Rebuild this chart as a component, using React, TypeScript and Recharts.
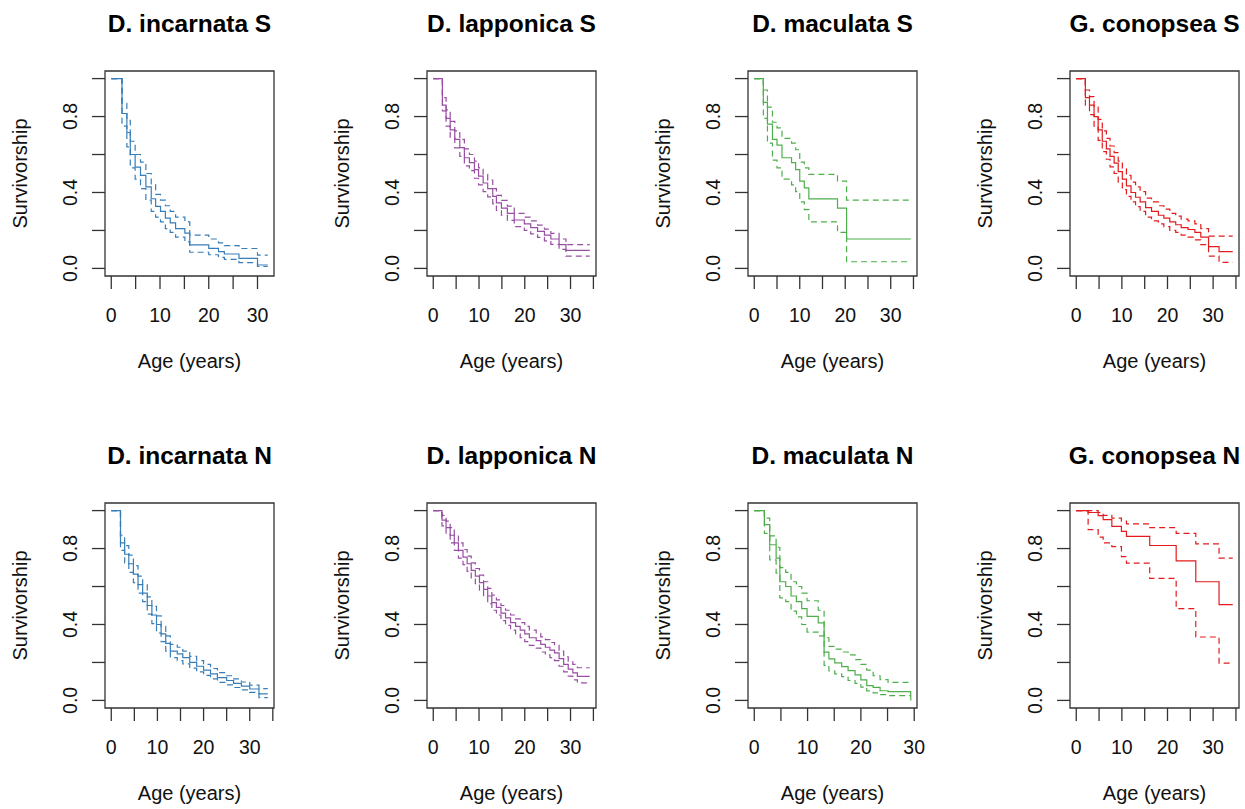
import React from "react";
import { LineChart, Line, XAxis, YAxis, ReferenceArea } from "recharts";

// D. incarnata S
const incS_t = [0, 2.2, 3.2, 3.9, 4.9, 6.0, 7.1, 8.2, 9.1, 10.1, 11.1, 12.1, 13.2, 15.1, 16.1, 20.0, 22.0, 23.2, 26.2, 30.0, 32.1];
const incS_s = [1, 0.816, 0.716, 0.6, 0.534, 0.49, 0.43, 0.367, 0.327, 0.3, 0.265, 0.24, 0.21, 0.186, 0.124, 0.106, 0.088, 0.076, 0.053, 0.018, 0.018];
const incS_u = [1, 0.87, 0.78, 0.67, 0.6, 0.56, 0.5, 0.44, 0.39, 0.36, 0.33, 0.3, 0.27, 0.245, 0.175, 0.155, 0.135, 0.12, 0.105, 0.07, 0.07];
const incS_l = [1, 0.75, 0.64, 0.53, 0.47, 0.42, 0.36, 0.3, 0.27, 0.245, 0.21, 0.19, 0.165, 0.14, 0.085, 0.072, 0.058, 0.048, 0.03, 0.01, 0.01];

// D. lapponica S
const lapS_t = [0, 2.0, 2.8, 3.7, 4.7, 5.8, 6.8, 7.9, 9.0, 9.9, 10.9, 11.9, 13.0, 13.8, 14.9, 16.2, 17.7, 19.9, 21.3, 22.8, 24.3, 25.7, 27.5, 29.0, 34.2];
const lapS_s = [1, 0.86, 0.79, 0.73, 0.68, 0.636, 0.583, 0.557, 0.52, 0.486, 0.45, 0.42, 0.38, 0.345, 0.318, 0.29, 0.255, 0.235, 0.215, 0.195, 0.175, 0.155, 0.125, 0.095, 0.095];
const lapS_u = [1, 0.9, 0.835, 0.775, 0.725, 0.68, 0.63, 0.6, 0.565, 0.53, 0.495, 0.465, 0.42, 0.385, 0.358, 0.328, 0.29, 0.27, 0.25, 0.228, 0.207, 0.185, 0.155, 0.125, 0.125];
const lapS_l = [1, 0.83, 0.75, 0.69, 0.635, 0.59, 0.54, 0.515, 0.475, 0.44, 0.405, 0.377, 0.34, 0.305, 0.28, 0.253, 0.22, 0.2, 0.182, 0.163, 0.145, 0.127, 0.1, 0.065, 0.065];

// D. maculata S
const macS_t = [0, 2.0, 2.9, 4.0, 5.0, 6.1, 8.2, 9.1, 10.0, 11.0, 12.0, 18.3, 20.3, 34.4];
const macS_s = [1, 0.875, 0.76, 0.68, 0.65, 0.583, 0.557, 0.52, 0.46, 0.424, 0.366, 0.318, 0.155, 0.155];
const macS_u = [1, 0.94, 0.85, 0.77, 0.74, 0.685, 0.66, 0.625, 0.56, 0.53, 0.495, 0.46, 0.36, 0.36];
const macS_l = [1, 0.79, 0.66, 0.57, 0.53, 0.47, 0.44, 0.405, 0.35, 0.31, 0.245, 0.19, 0.035, 0.035];

// G. conopsea S
const conS_t = [0, 2.0, 2.9, 3.9, 4.8, 5.7, 6.6, 7.4, 8.3, 9.2, 10.1, 11.0, 12.0, 13.0, 14.0, 15.2, 16.5, 18.0, 19.2, 20.5, 21.8, 23.0, 24.5, 26.0, 27.3, 29.0, 31.3, 34.3];
const conS_s = [1, 0.9, 0.86, 0.8, 0.73, 0.67, 0.63, 0.59, 0.555, 0.51, 0.47, 0.435, 0.4, 0.375, 0.35, 0.32, 0.3, 0.28, 0.265, 0.245, 0.23, 0.215, 0.205, 0.19, 0.165, 0.115, 0.088, 0.088];
const conS_u = [1, 0.94, 0.905, 0.85, 0.785, 0.725, 0.685, 0.645, 0.61, 0.565, 0.525, 0.49, 0.455, 0.43, 0.405, 0.37, 0.35, 0.33, 0.312, 0.29, 0.275, 0.26, 0.25, 0.235, 0.21, 0.17, 0.17, 0.17];
const conS_l = [1, 0.86, 0.81, 0.75, 0.675, 0.615, 0.575, 0.535, 0.5, 0.455, 0.415, 0.38, 0.35, 0.325, 0.3, 0.27, 0.25, 0.235, 0.22, 0.2, 0.19, 0.175, 0.165, 0.15, 0.125, 0.065, 0.032, 0.032];

// D. incarnata N
const incN_t = [0, 2.0, 2.9, 3.8, 4.8, 5.8, 6.8, 7.8, 8.8, 9.8, 10.8, 11.8, 12.8, 14.3, 15.5, 17.0, 18.5, 20.0, 21.5, 23.0, 25.0, 26.5, 28.2, 30.0, 32.0, 33.9];
const incN_s = [1, 0.83, 0.77, 0.72, 0.665, 0.61, 0.565, 0.5, 0.45, 0.4, 0.35, 0.3, 0.26, 0.245, 0.225, 0.2, 0.18, 0.16, 0.14, 0.12, 0.105, 0.09, 0.075, 0.06, 0.034, 0.034];
const incN_u = [1, 0.87, 0.815, 0.765, 0.71, 0.655, 0.61, 0.545, 0.495, 0.445, 0.39, 0.34, 0.295, 0.28, 0.26, 0.232, 0.21, 0.19, 0.168, 0.146, 0.13, 0.113, 0.097, 0.08, 0.062, 0.062];
const incN_l = [1, 0.79, 0.725, 0.675, 0.62, 0.565, 0.52, 0.455, 0.405, 0.355, 0.31, 0.26, 0.225, 0.21, 0.192, 0.17, 0.15, 0.132, 0.113, 0.095, 0.082, 0.068, 0.055, 0.042, 0.015, 0.015];

// D. lapponica N
const lapN_t = [0, 1.9, 2.8, 3.7, 4.6, 5.5, 6.5, 7.4, 8.3, 9.2, 10.1, 11.0, 11.9, 12.8, 13.8, 14.8, 15.8, 16.9, 18.0, 19.0, 20.0, 21.0, 22.5, 23.5, 24.5, 25.5, 26.5, 27.5, 28.5, 29.5, 30.5, 31.5, 34.2];
const lapN_s = [1, 0.95, 0.91, 0.87, 0.83, 0.79, 0.755, 0.72, 0.685, 0.655, 0.62, 0.585, 0.55, 0.515, 0.49, 0.46, 0.435, 0.41, 0.39, 0.37, 0.35, 0.33, 0.315, 0.295, 0.28, 0.265, 0.25, 0.22, 0.19, 0.165, 0.145, 0.127, 0.127];
const lapN_u = [1, 0.975, 0.945, 0.91, 0.87, 0.83, 0.795, 0.76, 0.725, 0.695, 0.66, 0.625, 0.59, 0.555, 0.53, 0.5, 0.475, 0.45, 0.43, 0.41, 0.39, 0.37, 0.355, 0.335, 0.32, 0.305, 0.29, 0.26, 0.23, 0.205, 0.19, 0.172, 0.172];
const lapN_l = [1, 0.92, 0.875, 0.83, 0.79, 0.75, 0.715, 0.68, 0.645, 0.615, 0.58, 0.545, 0.51, 0.475, 0.45, 0.42, 0.395, 0.37, 0.35, 0.33, 0.31, 0.29, 0.275, 0.255, 0.24, 0.225, 0.21, 0.18, 0.15, 0.128, 0.108, 0.092, 0.092];

// D. maculata N
const macN_t = [0, 1.9, 2.9, 4.1, 4.8, 5.9, 6.9, 7.9, 8.9, 9.9, 12.0, 13.1, 14.0, 15.1, 16.4, 17.6, 18.9, 20.0, 21.1, 22.3, 23.6, 25.1, 29.35];
const macN_s = [1, 0.926, 0.82, 0.75, 0.625, 0.6, 0.55, 0.52, 0.484, 0.443, 0.408, 0.254, 0.219, 0.198, 0.178, 0.157, 0.134, 0.108, 0.078, 0.069, 0.051, 0.046, 0];
const macN_u = [1, 0.96, 0.867, 0.807, 0.7, 0.675, 0.625, 0.6, 0.565, 0.525, 0.475, 0.33, 0.285, 0.27, 0.255, 0.24, 0.215, 0.19, 0.16, 0.13, 0.11, 0.095, 0.095];
const macN_l = [1, 0.88, 0.74, 0.67, 0.54, 0.52, 0.47, 0.44, 0.4, 0.36, 0.34, 0.185, 0.155, 0.14, 0.125, 0.105, 0.09, 0.07, 0.05, 0.04, 0.03, 0.025, 0.025];

// G. conopsea N
const conN_t = [0, 2.6, 4.8, 5.9, 7.8, 9.9, 11.0, 16.1, 21.9, 26.2, 31.3, 34.3];
const conN_s = [1, 0.99, 0.973, 0.952, 0.917, 0.89, 0.864, 0.816, 0.735, 0.625, 0.505, 0.505];
const conN_u = [1, 1.0, 0.99, 0.975, 0.96, 0.945, 0.93, 0.91, 0.88, 0.825, 0.75, 0.75];
const conN_l = [1, 0.9, 0.86, 0.83, 0.81, 0.758, 0.723, 0.643, 0.484, 0.334, 0.196, 0.196];

const yTicks = [0, 0.2, 0.4, 0.6, 0.8, 1.0];
const yLabels = [0, 0.4, 0.8];
const xLabels = [0, 10, 20, 30];

const BLUE = "#377EB8";
const PURPLE = "#984EA3";
const GREEN = "#4DAF4A";
const RED = "#E41A1C";

const FONT = "'Liberation Sans', Arial, sans-serif";
const INK = "#111";

// plot box geometry (page px)
const colLeft = [105, 427, 748, 1070];
const rowTop = [71, 503];
const BOX_W = 169;
const BOX_H = 205;
const AXIS_W = 100;
const TOP = 71;
const RIGHT = 22;
const CHART_W = AXIS_W + BOX_W + RIGHT;
const CHART_H = TOP + BOX_H + 100;

type Panel = {
  title: string;
  t: number[];
  s: number[];
  u: number[];
  l: number[];
  color: string;
  col: number;
  row: number;
};

const panels: Panel[] = [
  { title: "D. incarnata S", t: incS_t, s: incS_s, u: incS_u, l: incS_l, color: BLUE, col: 0, row: 0 },
  { title: "D. lapponica S", t: lapS_t, s: lapS_s, u: lapS_u, l: lapS_l, color: PURPLE, col: 1, row: 0 },
  { title: "D. maculata S", t: macS_t, s: macS_s, u: macS_u, l: macS_l, color: GREEN, col: 2, row: 0 },
  { title: "G. conopsea S", t: conS_t, s: conS_s, u: conS_u, l: conS_l, color: RED, col: 3, row: 0 },
  { title: "D. incarnata N", t: incN_t, s: incN_s, u: incN_u, l: incN_l, color: BLUE, col: 0, row: 1 },
  { title: "D. lapponica N", t: lapN_t, s: lapN_s, u: lapN_u, l: lapN_l, color: PURPLE, col: 1, row: 1 },
  { title: "D. maculata N", t: macN_t, s: macN_s, u: macN_u, l: macN_l, color: GREEN, col: 2, row: 1 },
  { title: "G. conopsea N", t: conN_t, s: conN_s, u: conN_u, l: conN_l, color: RED, col: 3, row: 1 },
];

function SurvPanel({ p }: { p: Panel }) {
  const data = p.t.map((t, i) => ({ t, s: p.s[i], u: p.u[i], l: p.l[i] }));
  const xMax = p.t[p.t.length - 1];
  const lo = -0.04 * xMax;
  const hi = 1.04 * xMax;
  const xTicks = [0, 5, 10, 15, 20, 25, 30, 35].filter((v) => v <= hi);
  const left = colLeft[p.col] - AXIS_W;
  const top = rowTop[p.row] - TOP;

  return (
    <div style={{ position: "absolute", left, top, width: CHART_W, height: CHART_H }}>
      <div
        style={{
          position: "absolute",
          left: AXIS_W - 20,
          width: BOX_W + 40,
          top: 9,
          textAlign: "center",
          fontFamily: FONT,
          fontWeight: "bold",
          fontSize: 24.5,
          lineHeight: "30px",
          color: "#000",
          whiteSpace: "nowrap",
        }}
      >
        {p.title}
      </div>
      <LineChart
        width={CHART_W}
        height={CHART_H}
        data={data}
        margin={{ top: TOP, right: RIGHT, bottom: 0, left: 0 }}
      >
        <XAxis
          dataKey="t"
          type="number"
          domain={[lo, hi]}
          ticks={xTicks}
          interval={0}
          allowDataOverflow
          axisLine={false}
          tickSize={13}
          tickMargin={0}
          tickLine={{ stroke: "#333", strokeWidth: 1.3 }}
          height={100}
          tick={(props: any) =>
            xLabels.includes(props.payload.value) ? (
              <text x={props.x} y={TOP + BOX_H + 46} textAnchor="middle" fontSize={19.5} fontFamily={FONT} fill={INK}>
                {props.payload.value}
              </text>
            ) : (
              <g />
            )
          }
          label={{
            content: () => (
              <text x={AXIS_W + BOX_W / 2} y={TOP + BOX_H + 91.5} textAnchor="middle" fontSize={20} fontFamily={FONT} fill={INK}>
                Age (years)
              </text>
            ),
          }}
        />
        <YAxis
          type="number"
          domain={[-0.04, 1.04]}
          ticks={yTicks}
          interval={0}
          allowDataOverflow
          axisLine={false}
          tickSize={13}
          tickLine={{ stroke: "#333", strokeWidth: 1.3 }}
          width={AXIS_W}
          tick={(props: any) =>
            yLabels.includes(props.payload.value) ? (
              <text
                x={AXIS_W - 28}
                y={props.y}
                transform={`rotate(-90, ${AXIS_W - 28}, ${props.y})`}
                textAnchor="middle"
                fontSize={19.5}
                fontFamily={FONT}
                fill={INK}
              >
                {props.payload.value.toFixed(1)}
              </text>
            ) : (
              <g />
            )
          }
          label={{
            content: () => (
              <text
                x={AXIS_W - 78}
                y={TOP + BOX_H / 2}
                transform={`rotate(-90, ${AXIS_W - 78}, ${TOP + BOX_H / 2})`}
                textAnchor="middle"
                fontSize={20}
                fontFamily={FONT}
                fill={INK}
              >
                Survivorship
              </text>
            ),
          }}
        />
        <Line dataKey="u" type="stepAfter" stroke={p.color} strokeWidth={1.2} strokeDasharray="6 4" dot={false} isAnimationActive={false} />
        <Line dataKey="l" type="stepAfter" stroke={p.color} strokeWidth={1.2} strokeDasharray="6 4" dot={false} isAnimationActive={false} />
        <Line dataKey="s" type="stepAfter" stroke={p.color} strokeWidth={1.2} dot={false} isAnimationActive={false} />
        <ReferenceArea x1={lo} x2={hi} y1={-0.04} y2={1.04} fill="none" fillOpacity={0} stroke="#333" strokeWidth={1.3} />
      </LineChart>
    </div>
  );
}

export default function App() {
  return (
    <div style={{ position: "absolute", left: 0, top: 0, width: 1245, height: 809, background: "#fff", overflow: "hidden" }}>
      {panels.map((p) => (
        <SurvPanel key={p.title} p={p} />
      ))}
    </div>
  );
}
